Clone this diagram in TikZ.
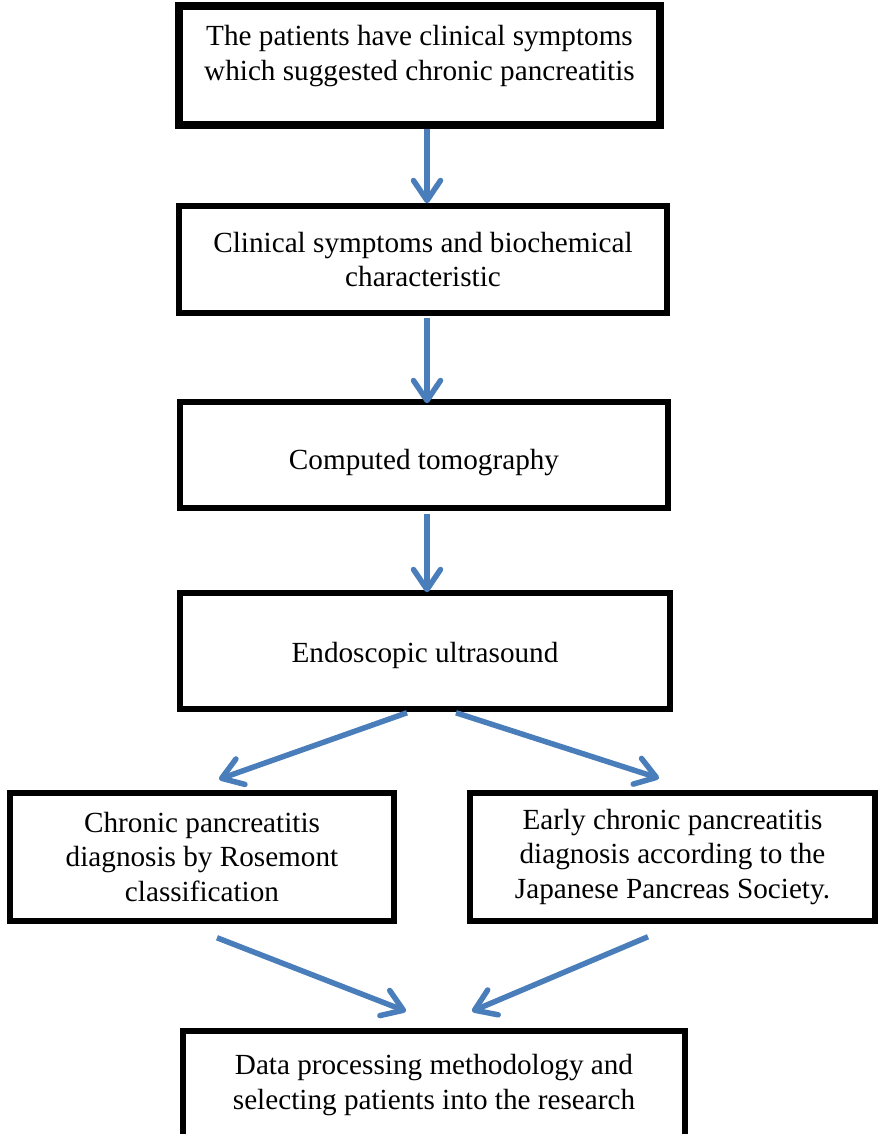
\documentclass[tikz,border=0pt]{standalone}
\usepackage{fontspec}
\setmainfont{Liberation Serif}
\usetikzlibrary{arrows.meta}
\definecolor{arrowblue}{RGB}{74,126,187}
\tikzset{block/.style = {draw=black,line width=5.5pt,align=center,inner sep=0pt,font=\fontsize{29.2}{34.5}\selectfont}}
\tikzset{arrow/.style = {->,>={Straight Barb[length=20pt,width=27pt,round]},line width=5.5pt,color=arrowblue}}

\begin{document}
\begin{tikzpicture}[x=1pt,y=-1pt]
		\useasboundingbox (0,0) rectangle (878,1134);
		\node[block, line width=8pt, minimum width=481pt, minimum height=119pt, text depth=25pt] (symptoms) at (419.5,65.5) {The patients have clinical symptoms\\which suggested chronic pancreatitis};
		\node[block, minimum width=488pt, minimum height=107pt] (biochem) at (423,259.5) {Clinical symptoms and biochemical\\characteristic};
		\node[block, minimum width=488pt, minimum height=106pt, text height=36pt] (ct) at (424,455) {Computed tomography};
		\node[block, minimum width=490pt, minimum height=116pt, text height=30pt] (eus) at (425,651) {Endoscopic ultrasound};
		\node[block, minimum width=384pt, minimum height=128pt] (rosemont) at (202,857) {Chronic pancreatitis\\diagnosis by Rosemont\\classification};
		\node[block, minimum width=405pt, minimum height=128pt] (japan) at (672.5,857) {Early chronic pancreatitis\\diagnosis according to the\\Japanese Pancreas Society.};
		\node[block, minimum width=502pt, minimum height=108pt] (data) at (434,1085) {Data processing methodology and\\selecting patients into the research};
		\path[arrow] ([shift={(7.5,0)}]symptoms.south) edge ([shift={(4,0)}]biochem.north);
		\path[arrow] ([shift={(4,2)}]biochem.south) edge ([shift={(3,4)}]ct.north);
		\path[arrow] ([shift={(3,3)}]ct.south) edge ([shift={(2,2)}]eus.north);
		\path[arrow] ([shift={(-18,1)}]eus.south) edge ([shift={(17,-11)}]rosemont.north);
		\path[arrow] ([shift={(31,1)}]eus.south) edge ([shift={(-13.5,-12)}]japan.north);
		\path[arrow] ([shift={(15,14)}]rosemont.south) edge ([shift={(-28,-17)}]data.north);
		\path[arrow] ([shift={(-24.5,13)}]japan.south) edge ([shift={(38,-17)}]data.north);
	\end{tikzpicture}
\end{document}
